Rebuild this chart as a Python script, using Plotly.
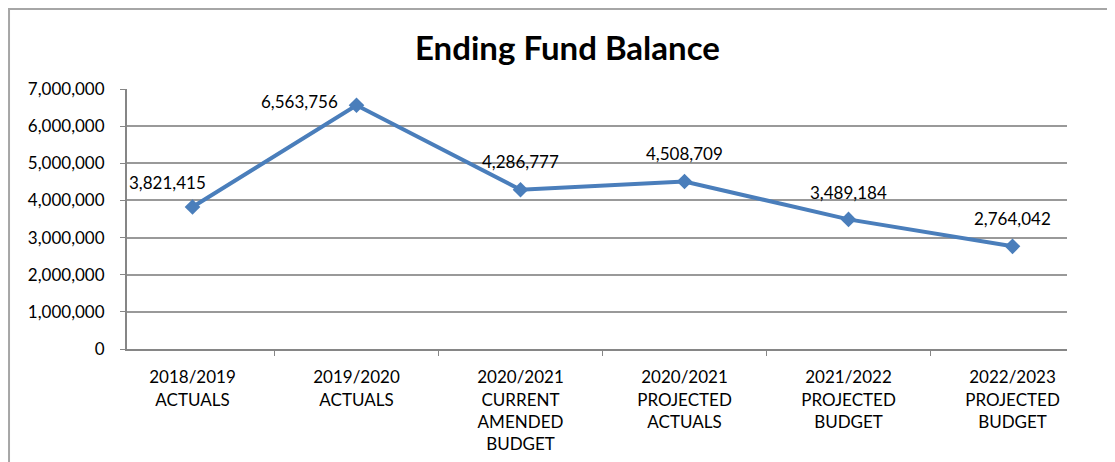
import plotly.graph_objects as go

categories = ["2018/2019<br>ACTUALS", "2019/2020<br>ACTUALS", "2020/2021<br>CURRENT<br>AMENDED<br>BUDGET",
              "2020/2021<br>PROJECTED<br>ACTUALS", "2021/2022<br>PROJECTED<br>BUDGET", "2022/2023<br>PROJECTED<br>BUDGET"]
values = [3821415, 6563756, 4286777, 4508709, 3489184, 2764042]
label_shifts = [(-25, 25), (-57, 4), (0, 28), (0, 28), (0, 27), (0, 28)]
ytick_vals = [0, 1000000, 2000000, 3000000, 4000000, 5000000, 6000000, 7000000]

FONT = "Lato"
LINE = "#4A7EBB"

fig = go.Figure()
fig.add_trace(go.Scatter(
    x=categories, y=values, mode="lines+markers",
    line=dict(color=LINE, width=4),
    marker=dict(symbol="diamond", size=12, color=LINE),
    hoverinfo="skip", showlegend=False,
))

for c, v, (dx, dy) in zip(categories, values, label_shifts):
    fig.add_annotation(x=c, y=v, text=f"{v:,}", showarrow=False,
                       xshift=dx, yshift=dy, font=dict(family=FONT, size=17, color="#000"))

fig.add_annotation(xref="paper", yref="paper", x=0.469, y=1.0, yshift=42, yanchor="middle",
                   text="<b>Ending Fund Balance</b>",
                   showarrow=False, font=dict(family=FONT, size=33, color="#000"))

# outer chart border
fig.add_shape(type="rect", xref="paper", yref="paper", x0=-0.1255, x1=1.2, y0=-0.6, y1=1.3077,
              line=dict(color="#A6A6A6", width=2), layer="below")

fig.update_layout(
    width=1115, height=462,
    margin=dict(l=119, r=56, t=81, b=121),
    paper_bgcolor="white", plot_bgcolor="white",
    font=dict(family=FONT, size=17, color="#000"),
    xaxis=dict(type="category", tickson="boundaries", ticks="outside", ticklen=5, tickcolor="#868686",
               showline=True, linecolor="#868686", linewidth=2, showgrid=False,
               ticklabelstandoff=12,
               tickfont=dict(family=FONT, size=17), fixedrange=True),
    yaxis=dict(range=[0, 7000000], tickvals=ytick_vals,
               ticktext=[f"{t:,}" for t in ytick_vals],
               ticks="outside", ticklen=5, tickcolor="#868686",
               showline=True, linecolor="#868686", linewidth=2,
               ticklabelstandoff=12,
               showgrid=True, gridcolor="#999999", gridwidth=1.5, zeroline=False,
               tickfont=dict(family=FONT, size=17), fixedrange=True),
)

fig.write_html("out.html")
